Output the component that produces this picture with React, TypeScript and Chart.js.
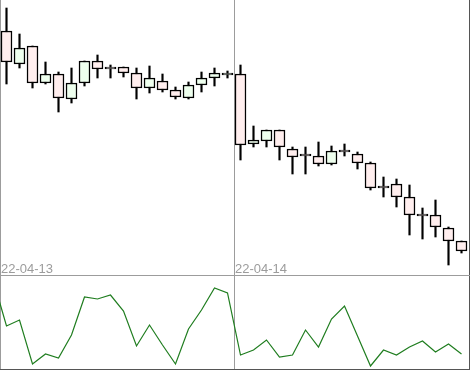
import React, { useEffect, useRef } from 'react';
import { Chart, registerables } from 'chart.js';

Chart.register(...registerables);

// Session labels and the candle index where each session starts
const dayLabels = ['22-04-13', '22-04-14'];
const dayStarts = [0, 18];

// OHLC values per candle
const opens = [269, 236, 254, 217, 226, 201, 217, 239, 233, 233, 227, 212, 219, 210, 202, 215, 222, 225,
  226, 156, 159, 170, 151, 146, 144, 136, 150, 146, 137, 114, 116, 103, 86, 85, 72, 59];
const closes = [238, 252, 217, 226, 202, 217, 239, 231, 231, 227, 212, 222, 210, 203, 215, 222, 227, 227,
  155, 160, 170, 153, 143, 144, 136, 149, 148, 137, 112, 112, 103, 85, 84, 73, 59, 49];
const highs = [292, 266, 254, 238, 228, 232, 239, 245, 235, 233, 232, 234, 226, 213, 218, 228, 232, 229,
  235, 174, 170, 170, 153, 153, 158, 154, 156, 148, 138, 123, 121, 115, 92, 100, 73, 59];
const lows = [216, 232, 212, 216, 188, 197, 214, 222, 222, 223, 201, 207, 208, 201, 201, 208, 214, 222,
  140, 153, 153, 140, 126, 126, 134, 135, 144, 131, 110, 103, 93, 65, 61, 63, 35, 47];

// Lower-panel indicator (value before the first visible candle, then one per candle)
const indicatorPrev = 88;
const indicator = [43, 49, 5, 15, 11, 34, 72, 70, 74, 58, 23, 44, 24, 5, 40, 59, 81, 76,
  14, 19, 29, 12, 14, 39, 22, 50, 63, 33, 3, 19, 14, 22, 28, 17, 25, 15];

const FRAME_LIGHT = '#9c9c9c';
const FRAME_DARK = '#555555';
const X_MIN = -0.5;
const X_MAX = -0.5 + 469 / 13;

function makeX(showLabels: boolean, borderColor: string): any {
  return {
    type: 'linear',
    min: X_MIN,
    max: X_MAX,
    offset: false,
    bounds: 'ticks',
    afterBuildTicks: (s: any) => {
      s.ticks = [...dayStarts.map((d) => ({ value: d - 0.5 })), { value: X_MAX }];
    },
    afterFit: (s: any) => {
      s.height = 0;
    },
    grid: {
      offset: false,
      color: (c: any) => (c.tick && c.tick.value === X_MAX ? FRAME_DARK : FRAME_LIGHT),
      drawTicks: false,
      lineWidth: 1,
    },
    border: { display: true, color: borderColor, width: 1 },
    ticks: {
      display: showLabels,
      autoSkip: false,
      maxRotation: 0,
      minRotation: 0,
      align: 'start',
      mirror: true,
      padding: -2.5,
      labelOffset: 1,
      color: '#9c9c9c',
      font: { family: '"Liberation Sans", Arial, sans-serif', size: 13 },
      callback: (v: number) => {
        const i = dayStarts.indexOf(v + 0.5);
        return i >= 0 ? dayLabels[i] : '';
      },
    },
  };
}

export default function App() {
  const topRef = useRef<HTMLCanvasElement | null>(null);
  const botRef = useRef<HTMLCanvasElement | null>(null);

  useEffect(() => {
    const idx = opens.map((_, i) => i);
    const bodyColors = idx.map((i) => (closes[i] < opens[i] ? '#ffeeee' : '#eeffee'));

    const top = new Chart(topRef.current as HTMLCanvasElement, {
      type: 'bar',
      data: {
        datasets: [
          {
            label: 'body',
            data: idx.map((i) => ({ x: i, y: [opens[i], closes[i]] })) as any,
            backgroundColor: bodyColors,
            borderColor: '#000000',
            borderWidth: 1.5,
            borderSkipped: false,
            barThickness: 11,
            grouped: false,
            order: 0,
          },
          {
            label: 'wick',
            data: idx.map((i) => ({ x: i, y: [lows[i], highs[i]] })) as any,
            backgroundColor: '#000000',
            borderWidth: 0,
            barThickness: 1.5,
            grouped: false,
            order: 1,
          },
        ],
      },
      options: {
        responsive: false,
        animation: false,
        events: [],
        layout: { padding: { left: 0, right: 1, top: 0, bottom: 1 } },
        plugins: { legend: { display: false }, tooltip: { enabled: false } },
        scales: {
          x: makeX(true, FRAME_LIGHT),
          y: { type: 'linear', display: false, min: 25, max: 300 },
        },
      },
    });

    const bot = new Chart(botRef.current as HTMLCanvasElement, {
      type: 'line',
      data: {
        datasets: [
          {
            label: 'indicator',
            data: [{ x: -1, y: indicatorPrev }, ...indicator.map((v, i) => ({ x: i, y: v }))] as any,
            borderColor: '#1f7d1f',
            borderWidth: 1.2,
            pointRadius: 0,
            tension: 0,
            fill: false,
          },
        ],
      },
      options: {
        responsive: false,
        animation: false,
        events: [],
        layout: { padding: { left: 0, right: 1, top: 0, bottom: 1 } },
        plugins: { legend: { display: false }, tooltip: { enabled: false } },
        scales: {
          x: makeX(false, FRAME_DARK),
          y: { type: 'linear', display: false, min: 0, max: 93 },
        },
      },
    });

    return () => {
      top.destroy();
      bot.destroy();
    };
  }, []);

  return (
    <div style={{ position: 'fixed', left: 0, top: 0, width: 470, height: 370, background: '#ffffff' }}>
      <canvas ref={topRef} width={470} height={276} style={{ position: 'absolute', left: 0, top: 0, display: 'block' }} />
      <canvas ref={botRef} width={470} height={94} style={{ position: 'absolute', left: 0, top: 276, display: 'block' }} />
    </div>
  );
}
